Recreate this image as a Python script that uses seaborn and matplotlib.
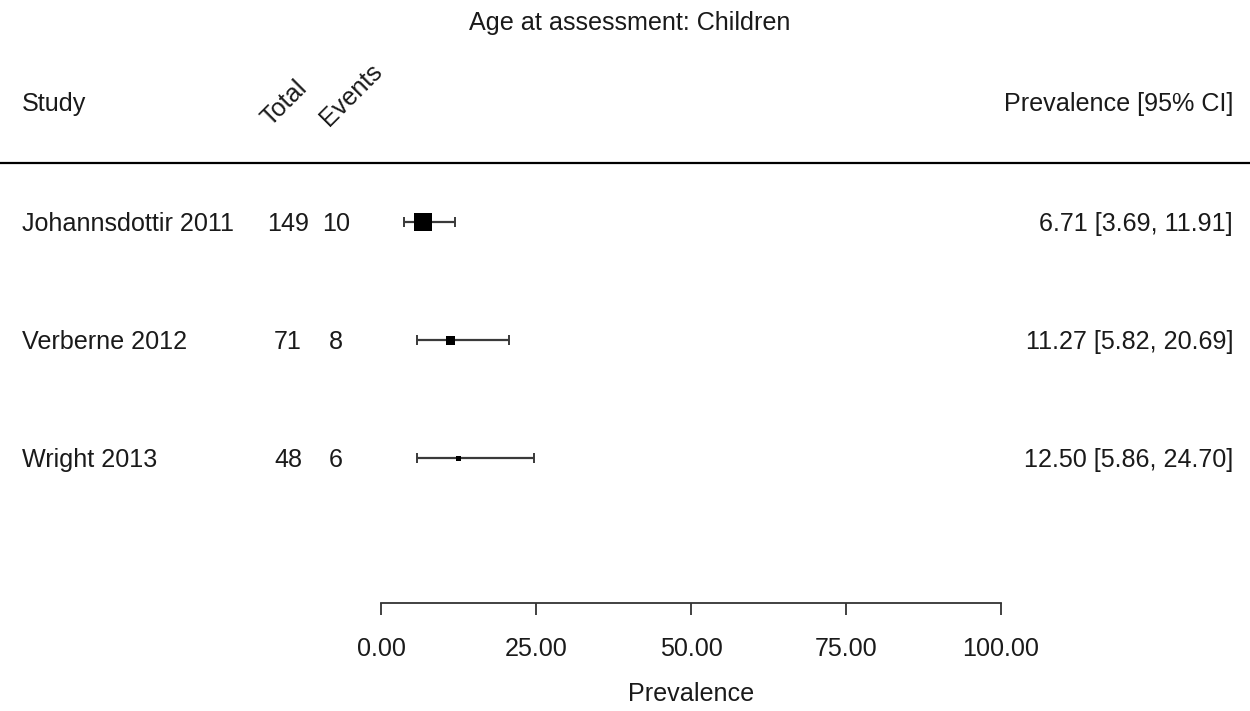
import numpy as np
import pandas as pd
import matplotlib
matplotlib.use("Agg")
import matplotlib.pyplot as plt
from matplotlib.lines import Line2D
from matplotlib.transforms import blended_transform_factory as btf
import seaborn as sns

# ---- data ----
studies = ["Johannsdottir 2011", "Verberne 2012", "Wright 2013"]
totals = [149, 71, 48]
events = [10, 8, 6]
prevalence = [6.71, 11.27, 12.50]
ci_lower = [3.69, 5.82, 5.86]
ci_upper = [11.91, 20.69, 24.70]
weights = [100, 25, 8]
x_ticks = [0, 25, 50, 75, 100]
title = "Age at assessment: Children"
x_label = "Prevalence"

sns.set_style("white")
plt.rcParams['font.family'] = ['Liberation Sans', 'DejaVu Sans']

W, H = 1250, 711
FS = 18.1
TXT = "#1a1a1a"
fig = plt.figure(figsize=(W / 100, H / 100), dpi=100)
ax_left, ax_right, ax_top, ax_bottom = 381, 1001, 163, 603
ax = fig.add_axes([ax_left / W, 1 - ax_bottom / H,
                   (ax_right - ax_left) / W, (ax_bottom - ax_top) / H])

df = pd.DataFrame({"study": studies, "total": totals, "events": events,
                   "prev": prevalence, "lo": ci_lower, "hi": ci_upper,
                   "weight": weights})
df["row"] = np.arange(len(df))

row0, step = 222, 118.2
ax.set_ylim((ax_bottom - row0) / step, (ax_top - row0) / step)
ax.set_xlim(0, 100)

# CI lines and caps
ax.hlines(df["row"], df["lo"], df["hi"], color="#3a3a3a", lw=1.6, clip_on=False)
cap = 5 / step
ax.vlines(df["lo"], df["row"] - cap, df["row"] + cap, color="#3a3a3a", lw=1.4, clip_on=False)
ax.vlines(df["hi"], df["row"] - cap, df["row"] + cap, color="#3a3a3a", lw=1.4, clip_on=False)

sns.scatterplot(data=df, x="prev", y="row", size="weight", sizes=(13, 168),
                marker="s", color="black", linewidth=0, legend=False, ax=ax, zorder=3)

# axis styling
for s in ["left", "top", "right"]:
    ax.spines[s].set_visible(False)
ax.spines["bottom"].set_bounds(0, 100)
ax.spines["bottom"].set_color("#333333")
ax.spines["bottom"].set_linewidth(1.3)
ax.set_yticks([])
ax.set_xticks(x_ticks)
ax.set_xticklabels([f"{t:.2f}" for t in x_ticks])
ax.tick_params(axis="x", bottom=True, direction="out", length=8.6, width=1.3,
               color="#333333", pad=15.7, labelsize=FS, labelcolor=TXT)
ax.set_xlabel(x_label, fontsize=FS, color=TXT, labelpad=15)
ax.set_ylabel("")
ax.patch.set_alpha(0)

# table columns
tr = btf(fig.transFigure, ax.transData)
dy = 2 / step
for _, r in df.iterrows():
    y = r["row"] + dy
    ax.text(22 / W, y, r["study"], transform=tr, ha="left", va="center",
            fontsize=FS, color=TXT)
    ax.text(288 / W, y, f"{r['total']}", transform=tr, ha="center", va="center",
            fontsize=FS, color=TXT)
    ax.text(336 / W, y, f"{r['events']}", transform=tr, ha="center", va="center",
            fontsize=FS, color=TXT)
    ax.text(1233 / W, y, f"{r['prev']:.2f} [{r['lo']:.2f}, {r['hi']:.2f}]",
            transform=tr, ha="right", va="center", fontsize=FS, color=TXT)

# headers
fig.text(630 / W, 1 - 23 / H, title, ha="center", va="center", fontsize=FS, color=TXT)
fig.text(22 / W, 1 - 104 / H, "Study", ha="left", va="center", fontsize=FS, color=TXT)
fig.text(1233 / W, 1 - 104 / H, "Prevalence [95% CI]", ha="right", va="center",
         fontsize=FS, color=TXT)
fig.text(270 / W, 1 - 127 / H, "Total", rotation=45, rotation_mode="anchor",
         ha="left", va="baseline", fontsize=FS, color=TXT)
fig.text(329 / W, 1 - 127 / H, "Events", rotation=45, rotation_mode="anchor",
         ha="left", va="baseline", fontsize=FS, color=TXT)
fig.add_artist(Line2D([0, 1], [1 - 163 / H] * 2, transform=fig.transFigure,
                      color="black", lw=1.6))

fig.savefig("out.png", dpi=100)
